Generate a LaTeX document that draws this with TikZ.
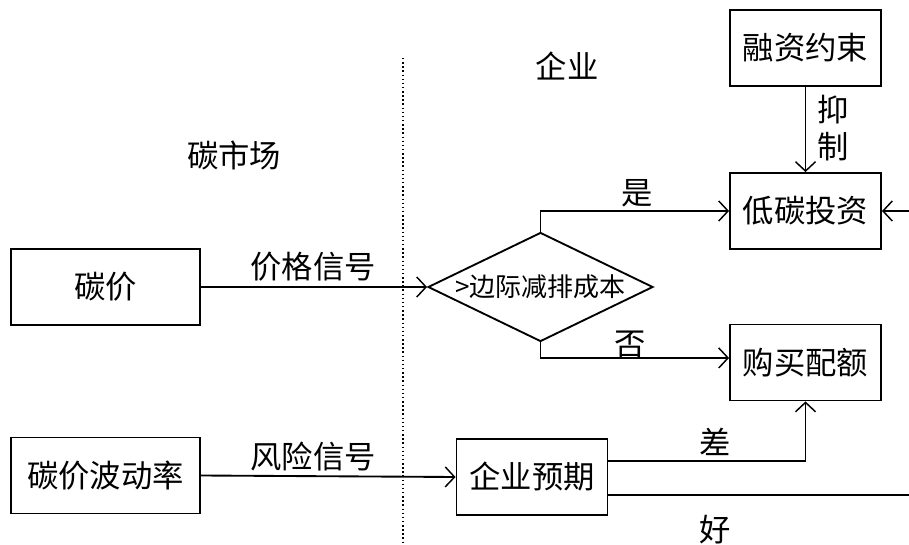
\documentclass[tikz,border=0pt]{standalone}
\usepackage{fontspec}
\newfontfamily\cjk{Noto Sans CJK SC}
\usetikzlibrary{shapes.geometric,arrows.meta,calc}
\begin{document}
\begin{tikzpicture}[x=0.75pt,y=-0.75pt,
  every node/.style={font=\cjk\fontsize{23.5}{25}\selectfont, inner sep=0pt},
  box/.style={draw, line width=1.4pt, minimum width=113.25pt, minimum height=57pt},
  wbox/.style={box, minimum width=141.75pt},
  conn/.style={line width=1.4pt},
  arr/.style={conn, -{Straight Barb[length=7pt,width=15pt,line width=1.1pt]}}]
\useasboundingbox (0,0) rectangle (909,545);
% left column
\node[wbox] (tanjia) at (105.5,287) {碳价};
\node[wbox] (bodong) at (105.5,475.5) {碳价波动率};
% divider
\coordinate (dv1) at (403,58);
\coordinate (dv2) at (403,545);
\draw[dotted, line width=1.1pt] (dv1) -- (dv2);
% decision
\node[draw, shape=diamond, line width=1.4pt, minimum width=168.75pt, minimum height=81.75pt] (dm) at (540.5,287) {};
\node[font=\cjk\fontsize{19.5}{21}\selectfont] (dmt) at (540.5,287) {>边际减排成本};
% right boxes
\node[box] (rzys) at (805.5,48) {融资约束};
\node[box] (dtz) at (805.5,211) {低碳投资};
\node[box] (gmpe) at (805.5,362.5) {购买配额};
\node[box] (qyyq) at (532,477) {企业预期};
% titles
\node (t1) at (567,66) {企业};
\node (t2) at (234,155) {碳市场};
% connectors
\draw[arr] (tanjia.east) -- (dm.west);
\node (l1) at (313,267) {价格信号};
\draw[arr] (bodong.east) -- (qyyq.west);
\node (l2) at (313,457) {风险信号};
\draw[arr] (dm.north) |- (dtz.west);
\node (l3) at (637,193) {是};
\draw[arr] (dm.south) |- ([yshift=3.4pt]gmpe.west);
\node (l4) at (630,344) {否};
\draw[arr] (rzys.south) -- (dtz.north);
\node (l5) at (833,110) {抑};
\node (l6) at (833,147) {制};
\coordinate (rin) at (909,211);
\draw[arr] (rin) -- (dtz.east);
\draw[arr] ([yshift=12pt]qyyq.east) -| (gmpe.south);
\node (l7) at (715,442) {差};
\coordinate (rout) at (909,495);
\draw[conn] ([yshift=-13.5pt]qyyq.east) -- (rout);
\node (l8) at (715,530) {好};
\end{tikzpicture}
\end{document}
